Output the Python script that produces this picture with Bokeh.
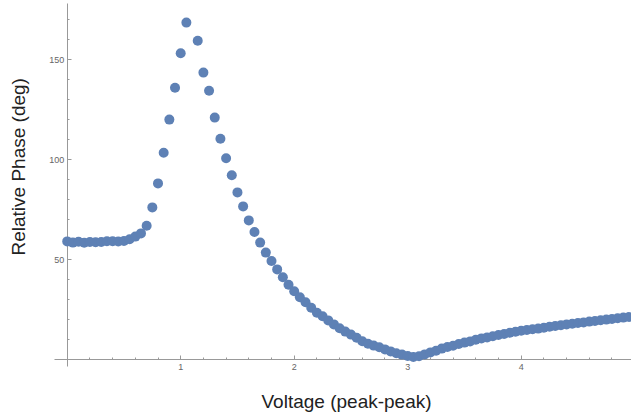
from bokeh.plotting import figure
from bokeh.models import LinearAxis, FixedTicker, Title, Range1d
from bokeh.embed import file_html
from bokeh.resources import INLINE

# Data (the point near 1.10 V lies above the shown range)
voltage = [0.00, 0.05, 0.10, 0.15, 0.20, 0.25, 0.30, 0.35, 0.40, 0.45,
           0.50, 0.55, 0.60, 0.65, 0.70, 0.75, 0.80, 0.85, 0.90, 0.95,
           1.00, 1.05, 1.15, 1.20, 1.25, 1.30, 1.35, 1.40, 1.45,
           1.50, 1.55, 1.60, 1.65, 1.70, 1.75, 1.80, 1.85, 1.90, 1.95,
           2.00, 2.05, 2.10, 2.15, 2.20, 2.25, 2.30, 2.35, 2.40, 2.45,
           2.50, 2.55, 2.60, 2.65, 2.70, 2.75, 2.80, 2.85, 2.90, 2.95,
           3.00, 3.05, 3.10, 3.15, 3.20, 3.25, 3.30, 3.35, 3.40, 3.45,
           3.50, 3.55, 3.60, 3.65, 3.70, 3.75, 3.80, 3.85, 3.90, 3.95,
           4.00, 4.05, 4.10, 4.15, 4.20, 4.25, 4.30, 4.35, 4.40, 4.45,
           4.50, 4.55, 4.60, 4.65, 4.70, 4.75, 4.80, 4.85, 4.90, 4.95]
phase = [59.2, 58.6, 59.0, 58.5, 58.9, 58.8, 58.9, 59.3, 59.3, 59.2,
         59.4, 60.3, 61.6, 63.2, 67.0, 76.2, 88.2, 103.5, 120.1, 136.0,
         153.3, 168.6, 159.5, 143.6, 134.5, 121.1, 110.5, 100.8, 92.3,
         83.7, 76.7, 69.7, 63.9, 58.6, 53.6, 49.4, 45.2, 41.3, 37.5,
         34.3, 31.3, 28.8, 26.0, 23.5, 21.8, 19.7, 17.7, 15.8, 14.1,
         12.6, 11.0, 9.3, 8.0, 7.1, 6.3, 5.2, 4.2, 3.3, 2.6,
         1.9, 1.4, 1.8, 2.7, 3.7, 4.5, 5.6, 6.4, 7.0, 7.9,
         8.6, 9.2, 10.0, 10.7, 11.2, 11.8, 12.4, 12.9, 13.5, 14.0,
         14.5, 14.9, 15.3, 15.6, 16.0, 16.5, 16.9, 17.3, 17.7, 18.0,
         18.4, 18.7, 19.1, 19.4, 19.8, 20.1, 20.4, 20.8, 21.1, 21.4]

x_major_ticks = [1, 2, 3, 4]
x_minor_ticks = [0.2, 0.4, 0.6, 0.8, 1.2, 1.4, 1.6, 1.8, 2.2, 2.4, 2.6, 2.8,
                 3.2, 3.4, 3.6, 3.8, 4.2, 4.4, 4.6, 4.8]
y_major_ticks = [50, 100, 150]
y_minor_ticks = [10, 20, 30, 40, 60, 70, 80, 90, 110, 120, 130, 140, 160, 170]

x_title = "Voltage (peak-peak)"
y_title = "Relative Phase (deg)"

AXIS_COLOR = "#999999"
TICK_LABEL_COLOR = "#666666"
FONT = "Liberation Sans"

p = figure(width=631, height=416,
           x_range=Range1d(-0.297, 4.972), y_range=Range1d(-11.85, 179.65),
           x_axis_type=None, y_axis_type=None,
           toolbar_location=None, output_backend="svg",
           min_border_left=33, min_border_right=0,
           min_border_top=0, min_border_bottom=33)
p.outline_line_color = None
p.background_fill_color = "white"
p.border_fill_color = "white"

p.scatter(voltage, phase, size=10, fill_color="#5E81B5", line_color=None)


def style_axis(ax):
    ax.level = "underlay"
    ax.axis_line_color = AXIS_COLOR
    ax.axis_line_width = 1
    ax.major_tick_line_color = AXIS_COLOR
    ax.minor_tick_line_color = AXIS_COLOR
    ax.major_tick_in = 4
    ax.major_tick_out = 0
    ax.minor_tick_in = 2
    ax.minor_tick_out = 0
    ax.major_label_text_font = FONT
    ax.major_label_text_font_size = "9px"
    ax.major_label_text_color = TICK_LABEL_COLOR


xaxis = LinearAxis(fixed_location=0, bounds=(-0.112, 4.972),
                   ticker=FixedTicker(ticks=x_major_ticks, minor_ticks=x_minor_ticks))
style_axis(xaxis)
xaxis.major_label_standoff = 4
p.add_layout(xaxis, "below")

yaxis = LinearAxis(fixed_location=0, bounds=(-3.35, 178.2),
                   ticker=FixedTicker(ticks=y_major_ticks, minor_ticks=y_minor_ticks))
style_axis(yaxis)
yaxis.major_label_standoff = 3
p.add_layout(yaxis, "left")

xt = Title(text=x_title, align="left", offset=228, standoff=10,
           text_font=FONT, text_font_size="19px", text_font_style="normal",
           text_color="#222222")
p.add_layout(xt, "below")

yt = Title(text=y_title, align="left", offset=128, standoff=10,
           text_font=FONT, text_font_size="19px", text_font_style="normal",
           text_color="#222222")
p.add_layout(yt, "left")

open("out.html", "w").write(file_html(p, INLINE))
